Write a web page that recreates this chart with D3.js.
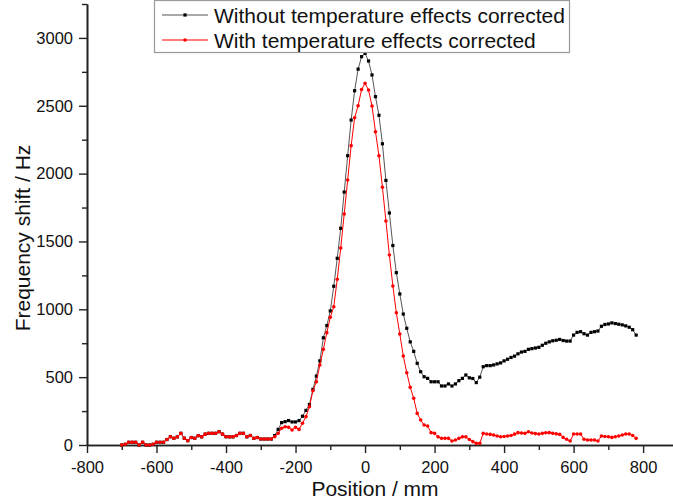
<!DOCTYPE html>
<html><head><meta charset="utf-8">
<script src="https://cdn.jsdelivr.net/npm/d3@7"></script>
<style>html,body{margin:0;padding:0;background:#fff;}svg{display:block;font-family:"Liberation Sans",Arial,sans-serif;}</style>
</head><body>
<svg id="c" width="673" height="503"></svg>
<script>
const positions = [-700,-690,-680,-670,-660,-650,-640,-630,-620,-610,-600,-590,-580,-570,-560,-550,-540,-530,-520,-510,-500,-490,-480,-470,-460,-450,-440,-430,-420,-410,-400,-390,-380,-370,-360,-350,-340,-330,-320,-310,-300,-290,-280,-270,-260,-250,-240,-230,-220,-210,-200,-190,-180,-170,-160,-150,-140,-130,-120,-110,-100,-90,-80,-70,-60,-50,-40,-30,-20,-10,0,10,20,30,40,50,60,70,80,90,100,110,120,130,140,150,160,170,180,190,200,210,220,230,240,250,260,270,280,290,300,310,320,330,340,350,360,370,380,390,400,410,420,430,440,450,460,470,480,490,500,510,520,530,540,550,560,570,580,590,600,610,620,630,640,650,660,670,680,690,700,710,720,730,740,750,760,770,780];
const withoutCorr = [0,5,20,20,20,0,20,0,0,5,20,20,20,40,61,50,60,86,50,32,55,50,69,60,80,86,86,86,98,80,61,60,60,70,86,86,60,70,49,55,44,44,44,44,
70,115,165,172,180,170,170,180,212,255,298,410,508,620,790,880,988,1170,1376,1597,1864,2132,2395,2611,2770,2862,2886,2830,2727,2567,2430,2220,1950,1710,1470,1270,1113,965,860,760,690,602,540,503,491,466,466,466,435,435,450,435,450,474,491,516,495,490,460,500,577,585,585,590,598,605,620,632,645,655,672,685,690,705,710,715,720,735,750,760,768,772,778,770,766,766,810,830,835,820,810,830,835,840,875,888,892,900,895,890,885,878,868,850,810];
const withCorr = [0,5,20,20,20,0,20,0,0,5,20,20,20,40,61,50,60,86,50,32,55,50,69,60,80,86,86,86,98,80,61,60,60,70,86,86,60,70,49,55,44,44,44,44,
61,86,123,135,130,110,130,115,160,209,282,400,466,590,705,828,941,1019,1221,1451,1702,1953,2206,2412,2500,2620,2665,2616,2498,2309,2132,1899,1651,1400,1172,975,818,656,533,425,344,233,184,147,140,91,86,60,49,49,49,29,37,49,60,60,40,25,12,12,86,81,78,74,66,61,63,66,70,80,91,88,86,98,88,84,81,86,90,91,86,82,78,56,42,29,81,81,81,42,37,37,37,29,66,63,61,56,61,66,74,81,81,70,49];
const seriesNames = ["Without temperature effects corrected","With temperature effects corrected"];
const xMajor = [-800,-600,-400,-200,0,200,400,600,800];
const xMinor = [-700,-500,-300,-100,100,300,500,700];
const yMajor = [0,500,1000,1500,2000,2500,3000];
const yMinor = [250,750,1250,1750,2250,2750,3250];

const svg = d3.select("#c");
const x = d3.scaleLinear().domain([-800, 886]).range([87, 673]);
const y = d3.scaleLinear().domain([0, 3250]).range([445, 4]);
const axisCol = "#222";
const fmt = d => String(d);

// Axes
const gx = svg.append("g").attr("transform","translate(0,445)");
gx.append("g").call(d3.axisBottom(x).tickValues(xMinor).tickSize(5).tickSizeOuter(0).tickFormat(() => ""));
gx.append("g").call(d3.axisBottom(x).tickValues(xMajor).tickSize(8).tickPadding(8).tickSizeOuter(0).tickFormat(fmt));
const gy = svg.append("g").attr("transform","translate(87,0)");
gy.append("g").call(d3.axisLeft(y).tickValues(yMinor).tickSize(5).tickSizeOuter(0).tickFormat(() => ""));
gy.append("g").call(d3.axisLeft(y).tickValues(yMajor).tickSize(8).tickPadding(6).tickSizeOuter(0).tickFormat(fmt));
svg.selectAll(".domain").attr("stroke",axisCol).attr("stroke-width",1.6);
svg.selectAll(".tick line").attr("stroke",axisCol).attr("stroke-width",1.4);
svg.selectAll(".tick text").attr("fill","#111").style("font-size","16.5px").style("font-family","'Liberation Sans',Arial,sans-serif");

// Axis titles
svg.append("text").attr("x",375).attr("y",496).attr("text-anchor","middle")
  .style("font-size","21px").attr("fill","#111").text("Position / mm");
svg.append("text").attr("transform","translate(30,238) rotate(-90)").attr("text-anchor","middle")
  .style("font-size","21px").attr("fill","#111").text("Frequency shift / Hz");

const line = d3.line().x((d,i)=>x(positions[i])).y(d=>y(d));
// black series
svg.append("path").datum(withoutCorr).attr("d",line).attr("fill","none").attr("stroke","#555").attr("stroke-width",1);
svg.append("g").selectAll("rect").data(withoutCorr).join("rect")
  .attr("x",(d,i)=>x(positions[i])-1.6).attr("y",d=>y(d)-1.6).attr("width",3.2).attr("height",3.2).attr("fill","#000");
// red series
svg.append("path").datum(withCorr).attr("d",line).attr("fill","none").attr("stroke","#f00").attr("stroke-width",1);
svg.append("g").selectAll("circle").data(withCorr).join("circle")
  .attr("cx",(d,i)=>x(positions[i])).attr("cy",d=>y(d)).attr("r",1.8).attr("fill","#f00");

// Legend
const lg = svg.append("g");
lg.append("rect").attr("x",154.5).attr("y",0.5).attr("width",415).attr("height",52).attr("fill","#fff").attr("stroke","#999").attr("stroke-width",1.2);
const lcol = [["#555","#000"],["#f00","#f00"]];
[15,40].forEach((yy,k)=>{
  lg.append("line").attr("x1",162).attr("x2",208).attr("y1",yy).attr("y2",yy).attr("stroke",lcol[k][0]).attr("stroke-width",1.2);
  if(k===0) lg.append("rect").attr("x",183.4).attr("y",yy-1.6).attr("width",3.2).attr("height",3.2).attr("fill","#000");
  else lg.append("circle").attr("cx",185).attr("cy",yy).attr("r",1.8).attr("fill","#f00");
  lg.append("text").attr("x",214).attr("y",yy+7.5).style("font-size","21px").attr("fill","#111").text(seriesNames[k]);
});
</script>
</body></html>
